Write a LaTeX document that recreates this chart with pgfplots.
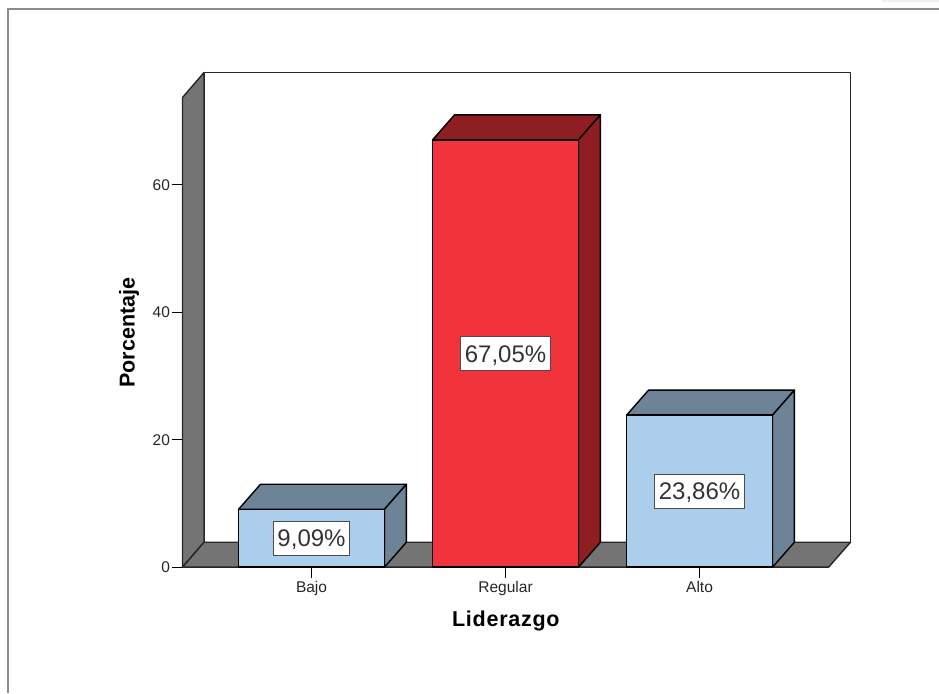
\documentclass[border=0pt]{standalone}
\usepackage{fontspec}
\setmainfont{Liberation Sans}
\usepackage{pgfplots}
\pgfplotsset{compat=1.18}

\definecolor{wallgrey}{HTML}{747474}
\definecolor{barblue}{HTML}{ABCEED}
\definecolor{blueshade}{HTML}{6C8398}
\definecolor{barred}{HTML}{F1333B}
\definecolor{redshade}{HTML}{8F1E22}
\definecolor{framegrey}{HTML}{8C8C8C}

\newcommand{\valuelabel}[3]{\node[draw=black!70,fill=white,line width=1pt,text=black!80,
    font=\fontsize{24}{26}\selectfont,inner xsep=4pt,inner ysep=8.5pt,text height=17.3pt,text depth=0pt]
    at (axis cs:#1,#2) {#3};}

\begin{document}
\begin{tikzpicture}[x=1pt,y=1pt]
\path[use as bounding box] (0,0) rectangle (939,693);
% window frame of the screenshot
\fill[black!6] (882,690.5) rectangle (939,693);
\draw[framegrey,line width=1.8pt] (8,0) -- (8,684) -- (939,684);

\begin{axis}[
    at={(182.5pt,125.8pt)},
    anchor=south west,
    scale only axis,
    width=668pt,
    height=494.7pt,
    xmin=-0.665, xmax=2.778,
    ymin=0, ymax=77.62,
    clip=false,
    axis x line*=bottom,
    axis y line*=left,
    axis line style={draw=none,-},
    tick align=outside,
    major tick length=10.5pt,
    tick style={black,line width=1pt},
    xtick={0,1,2},
    xticklabels={Bajo,Regular,Alto},
    ytick={0,20,40,60},
    /pgf/number format/assume math mode=true,
    tick label style={font=\fontsize{15.5}{17}\selectfont,text=black!85},
    y tick label style={xshift=1.5pt},
    xlabel={Liderazgo},
    ylabel={Porcentaje},
    xlabel style={font=\fontsize{21.5}{24}\selectfont\bfseries\addfontfeatures{LetterSpace=3.4},
        at={(rel axis cs:0.484,-0.108)},anchor=center},
    ylabel style={font=\fontsize{21.5}{24}\selectfont\bfseries,
        at={(rel axis cs:-0.080,0.474)},anchor=center},
    every axis plot/.append style={line width=1.4pt,line join=round},
]
% back wall, left wall, floor
\addplot[draw=black!85,fill=white] coordinates {(-0.554,3.92) (2.778,3.92) (2.778,77.62) (-0.554,77.62)} -- cycle;
\addplot[draw=black!85,fill=wallgrey] coordinates {(-0.665,0) (-0.554,3.92) (-0.554,77.62) (-0.665,73.7)} -- cycle;
\addplot[draw=black!85,fill=wallgrey] coordinates {(-0.665,0) (-0.554,3.92) (2.778,3.92) (2.665,0)} -- cycle;

% Bajo
\addplot[draw=black,fill=blueshade] coordinates {(-0.376,9.09) (-0.263,13.01) (0.489,13.01) (0.376,9.09)} -- cycle;
\addplot[draw=black,fill=blueshade] coordinates {(0.376,0) (0.489,3.92) (0.489,13.01) (0.376,9.09)} -- cycle;
\addplot[ybar,bar width=146pt,draw=black,fill=barblue] coordinates {(0,9.09)};
% Regular
\addplot[draw=black,fill=redshade] coordinates {(0.624,67.05) (0.737,70.97) (1.489,70.97) (1.376,67.05)} -- cycle;
\addplot[draw=black,fill=redshade] coordinates {(1.376,0) (1.489,3.92) (1.489,70.97) (1.376,67.05)} -- cycle;
\addplot[ybar,bar width=146pt,draw=black,fill=barred] coordinates {(1,67.05)};
% Alto
\addplot[draw=black,fill=blueshade] coordinates {(1.624,23.86) (1.737,27.78) (2.489,27.78) (2.376,23.86)} -- cycle;
\addplot[draw=black,fill=blueshade] coordinates {(2.376,0) (2.489,3.92) (2.489,27.78) (2.376,23.86)} -- cycle;
\addplot[ybar,bar width=146pt,draw=black,fill=barblue] coordinates {(2,23.86)};

\valuelabel{0}{4.545}{9,09\%}
\valuelabel{1}{33.525}{67,05\%}
\valuelabel{2}{11.93}{23,86\%}
\end{axis}
\end{tikzpicture}
\end{document}
